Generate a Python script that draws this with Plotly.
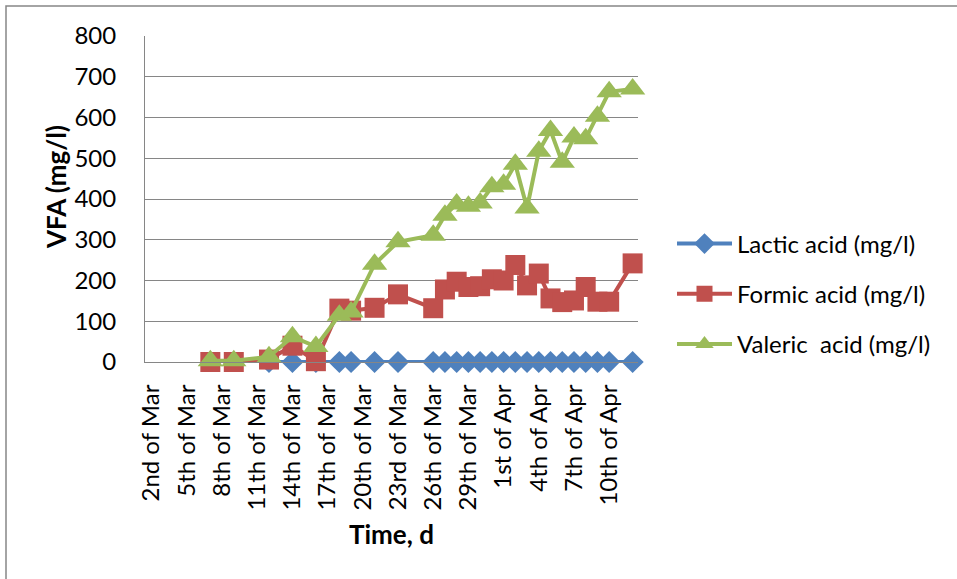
import plotly.graph_objects as go

# Tick labels (every 3 days)
tick_dates = ["2015-03-02", "2015-03-05", "2015-03-08", "2015-03-11", "2015-03-14",
              "2015-03-17", "2015-03-20", "2015-03-23", "2015-03-26", "2015-03-29",
              "2015-04-01", "2015-04-04", "2015-04-07", "2015-04-10"]
tick_labels = ["2nd of Mar", "5th of Mar", "8th of Mar", "11th of Mar", "14th of Mar",
               "17th of Mar", "20th of Mar", "23rd of Mar", "26th of Mar", "29th of Mar",
               "1st of Apr", "4th of Apr", "7th of Apr", "10th of Apr"]

# Sampling dates
dates_fv = ["2015-03-07", "2015-03-09", "2015-03-12", "2015-03-14", "2015-03-16",
            "2015-03-18", "2015-03-19", "2015-03-21", "2015-03-23", "2015-03-26",
            "2015-03-27", "2015-03-28", "2015-03-29", "2015-03-30", "2015-03-31",
            "2015-04-01", "2015-04-02", "2015-04-03", "2015-04-04", "2015-04-05",
            "2015-04-06", "2015-04-07", "2015-04-08", "2015-04-09", "2015-04-10",
            "2015-04-12"]
dates_lactic = dates_fv[2:]

lactic = [0] * len(dates_lactic)
formic = [0, 0, 6, 40, 2, 131, 126, 133, 166, 132, 178, 197, 184, 186, 203, 200,
          238, 188, 217, 156, 147, 151, 184, 148, 148, 242]
valeric = [3, 3, 13, 62, 38, 115, 123, 240, 295, 311, 360, 388, 382, 390, 430, 436,
           485, 378, 517, 568, 490, 552, 548, 603, 663, 670]

FONT = "Lato"
FS = 24

fig = go.Figure()
fig.add_trace(go.Scatter(x=dates_lactic, y=lactic, name="Lactic acid (mg/l)",
                         mode="lines+markers", legendgroup="a", cliponaxis=False,
                         line=dict(color="#4F81BD", width=4),
                         marker=dict(symbol="diamond", size=17, color="#4F81BD")))
fig.add_trace(go.Scatter(x=dates_fv, y=formic, name="Formic acid (mg/l)",
                         mode="lines+markers", legendgroup="b", cliponaxis=False,
                         line=dict(color="#C0504D", width=4),
                         marker=dict(symbol="square", size=20, color="#C0504D")))
fig.add_trace(go.Scatter(x=dates_fv, y=valeric, name="Valeric  acid (mg/l)",
                         mode="lines+markers", legendgroup="c", cliponaxis=False,
                         line=dict(color="#9BBB59", width=4),
                         marker=dict(symbol="triangle-up", size=22, color="#9BBB59")))

W, H = 957, 579
L, R, T, B = 145, 957 - 638, 36, 579 - 362
pw, ph = W - L - R, H - T - B

def px_x(p):
    return (p - L) / pw

def px_y(p):
    return (H - B - p) / ph

fig.update_layout(
    width=W, height=H,
    margin=dict(l=L, r=R, t=T, b=B, autoexpand=False),
    paper_bgcolor="white", plot_bgcolor="white",
    font=dict(family=FONT, size=FS, color="black"),
    showlegend=True,
    legend=dict(x=px_x(672), y=px_y(294), xanchor="left", yanchor="middle",
                font=dict(family=FONT, size=FS, color="black"),
                traceorder="grouped", tracegroupgap=16, itemwidth=55,
                bgcolor="rgba(0,0,0,0)"),
    xaxis=dict(type="date", range=["2015-03-01 10:20", "2015-04-12 11:00"],
               tickvals=tick_dates, ticktext=tick_labels, tickangle=-90,
               showgrid=False, zeroline=False, showline=True,
               linecolor="#868686", linewidth=1, ticks="",
               ticklabelstandoff=12,
               tickfont=dict(family=FONT, size=FS, color="black")),
    yaxis=dict(range=[0, 800], dtick=100, showgrid=True, gridcolor="#868686",
               gridwidth=1, zeroline=False, showline=True, linecolor="#868686",
               linewidth=1, ticks="", ticklabelstandoff=23,
               tickfont=dict(family=FONT, size=FS, color="black")),
    annotations=[
        dict(text="<b>VFA (mg/l)</b>", textangle=-90, x=px_x(56), y=px_y(187),
             xref="paper", yref="paper", showarrow=False,
             xanchor="center", yanchor="middle",
             font=dict(family=FONT, size=26, color="black")),
        dict(text="<b>Time, d</b>", x=px_x(391), y=px_y(534),
             xref="paper", yref="paper", showarrow=False,
             xanchor="center", yanchor="middle",
             font=dict(family=FONT, size=26, color="black")),
    ],
    shapes=[
        dict(type="rect", xref="paper", yref="paper",
             x0=px_x(6), x1=px_x(990), y0=px_y(620), y1=px_y(6),
             line=dict(color="#868686", width=1.5), layer="below"),
    ],
)

fig.write_html("out.html", config={"displayModeBar": False},
               post_script="document.body.style.margin='0';document.body.style.overflow='hidden';")
